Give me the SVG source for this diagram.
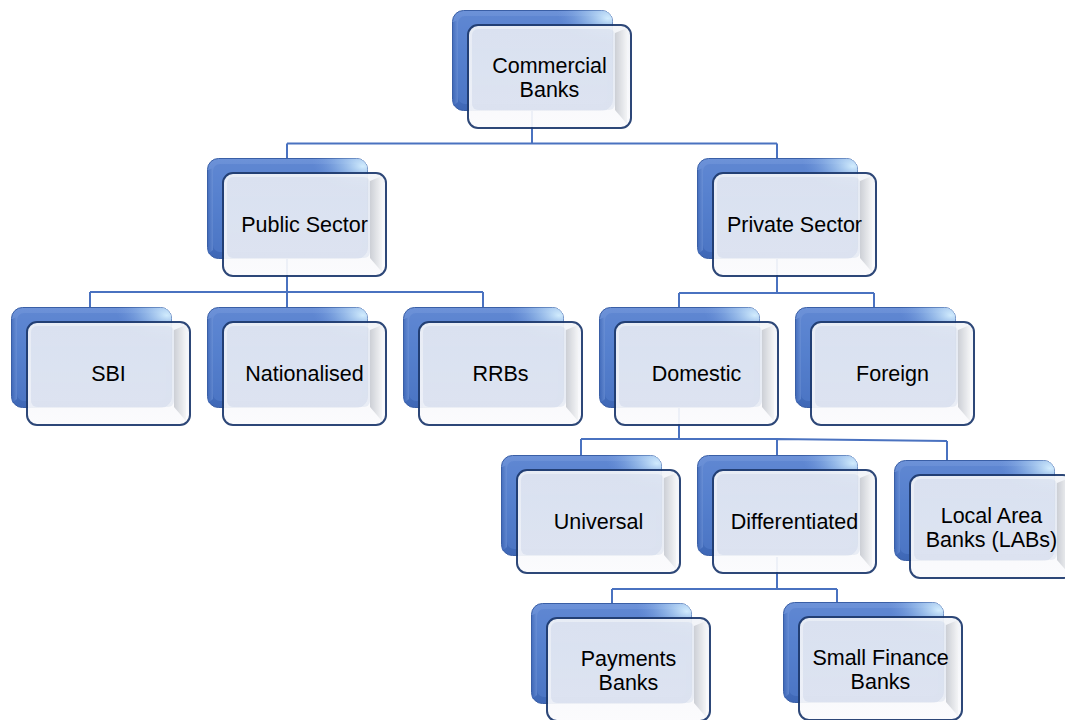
<svg xmlns="http://www.w3.org/2000/svg" xmlns:xlink="http://www.w3.org/1999/xlink" width="1065" height="720" viewBox="0 0 1065 720">
<style>
.t{font-family:"Liberation Sans",Arial,sans-serif;font-size:21.5px;fill:#000;text-anchor:middle}
.conn{fill:none;stroke:#4a72c0;stroke-width:2}
</style>
<defs>
<linearGradient id="gBack" x1="0" y1="0" x2="0" y2="1">
<stop offset="0" stop-color="#6d92d8"/>
<stop offset="0.45" stop-color="#5580cd"/>
<stop offset="1" stop-color="#3e67b6"/>
</linearGradient>
<linearGradient id="gBackL" x1="0" y1="0" x2="1" y2="0">
<stop offset="0" stop-color="#3f68b8"/>
<stop offset="1" stop-color="#6c91d6"/>
</linearGradient>
<radialGradient id="gHi" cx="1" cy="0" r="0.35" fx="0.97" fy="0.08">
<stop offset="0" stop-color="#d6f0ff" stop-opacity="0.95"/>
<stop offset="0.5" stop-color="#a9cdf2" stop-opacity="0.5"/>
<stop offset="1" stop-color="#7aa0e0" stop-opacity="0"/>
</radialGradient>
<linearGradient id="gFrontBase" x1="0" y1="0" x2="0" y2="1">
<stop offset="0" stop-color="#f2f4f8"/>
<stop offset="1" stop-color="#fbfbfd"/>
</linearGradient>
<linearGradient id="gRight" x1="0" y1="0" x2="1" y2="0">
<stop offset="0" stop-color="#c9ccd3"/>
<stop offset="1" stop-color="#f3f4f6"/>
</linearGradient>
<linearGradient id="gPanel" x1="0" y1="0" x2="0" y2="1">
<stop offset="0" stop-color="#e4e9f3"/>
<stop offset="1" stop-color="#e8ecf5"/>
</linearGradient>
<g id="back">
<rect x="0.5" y="0.5" width="160" height="100" rx="11" fill="url(#gBack)" stroke="#3a5fa6" stroke-width="1"/>
<rect x="6" y="6" width="149" height="88" rx="7" fill="#5580cd" opacity="0.55"/>
<path d="M1 12 L6 10 L6 92 L1 96 Z" fill="url(#gBackL)" opacity="0.7"/>
<rect x="0.5" y="0.5" width="160" height="100" rx="11" fill="url(#gHi)"/>
</g>
<g id="front" opacity="0.93">
<rect x="16" y="15" width="163" height="103" rx="10" fill="url(#gFrontBase)"/>
<path d="M163 23 L175 18 L175 114 L163 100 Z" fill="url(#gRight)"/>
<rect x="20" y="19" width="143" height="81" rx="6" fill="url(#gPanel)"/>
<rect x="16" y="15" width="163" height="103" rx="10" fill="none" stroke="#1e3a6e" stroke-width="2"/>
</g>
</defs>

<g id="connectors">
<path class="conn" d="M532 110 V143.5 M287 143.5 H777 M287 143.5 V158 M777 143.5 V158"/>
<path class="conn" d="M287 259 V292 M90 292 H483 M90 292 V307 M287 292 V307 M483 292 V307"/>
<path class="conn" d="M777 259 V293 M679 293 H874 M679 293 V307 M874 293 V307"/>
<path class="conn" d="M679 408 V439 M581 439 H777 L947 441 M581 439 V455 M777 439 V455 M947 441 V460"/>
<path class="conn" d="M777 557 V589 M612 589 H837 M612 589 V603 M837 589 V602"/>
</g>

<g id="n-commercial" transform="translate(452,10)">
<use xlink:href="#back"/><use xlink:href="#front"/>
<text class="t" x="97.5" y="62.5">Commercial</text>
<text class="t" x="97.5" y="87">Banks</text>
</g>
<g id="n-public" transform="translate(207,158)">
<use xlink:href="#back"/><use xlink:href="#front"/>
<text class="t" x="97.5" y="74">Public Sector</text>
</g>
<g id="n-private" transform="translate(697,158)">
<use xlink:href="#back"/><use xlink:href="#front"/>
<text class="t" x="97.5" y="74">Private Sector</text>
</g>
<g id="n-sbi" transform="translate(11,307)">
<use xlink:href="#back"/><use xlink:href="#front"/>
<text class="t" x="97.5" y="74">SBI</text>
</g>
<g id="n-nationalised" transform="translate(207,307)">
<use xlink:href="#back"/><use xlink:href="#front"/>
<text class="t" x="97.5" y="74">Nationalised</text>
</g>
<g id="n-rrbs" transform="translate(403,307)">
<use xlink:href="#back"/><use xlink:href="#front"/>
<text class="t" x="97.5" y="74">RRBs</text>
</g>
<g id="n-domestic" transform="translate(599,307)">
<use xlink:href="#back"/><use xlink:href="#front"/>
<text class="t" x="97.5" y="74">Domestic</text>
</g>
<g id="n-foreign" transform="translate(795,307)">
<use xlink:href="#back"/><use xlink:href="#front"/>
<text class="t" x="97.5" y="74">Foreign</text>
</g>
<g id="n-universal" transform="translate(501,455)">
<use xlink:href="#back"/><use xlink:href="#front"/>
<text class="t" x="97.5" y="74">Universal</text>
</g>
<g id="n-differentiated" transform="translate(697,455)">
<use xlink:href="#back"/><use xlink:href="#front"/>
<text class="t" x="97.5" y="74">Differentiated</text>
</g>
<g id="n-labs" transform="translate(894,460)">
<use xlink:href="#back"/><use xlink:href="#front"/>
<text class="t" x="97.5" y="62.5">Local Area</text>
<text class="t" x="97.5" y="87">Banks (LABs)</text>
</g>
<g id="n-payments" transform="translate(531,603)">
<use xlink:href="#back"/><use xlink:href="#front"/>
<text class="t" x="97.5" y="62.5">Payments</text>
<text class="t" x="97.5" y="87">Banks</text>
</g>
<g id="n-smallfinance" transform="translate(783,602)">
<use xlink:href="#back"/><use xlink:href="#front"/>
<text class="t" x="97.5" y="62.5">Small Finance</text>
<text class="t" x="97.5" y="87">Banks</text>
</g>
</svg>
